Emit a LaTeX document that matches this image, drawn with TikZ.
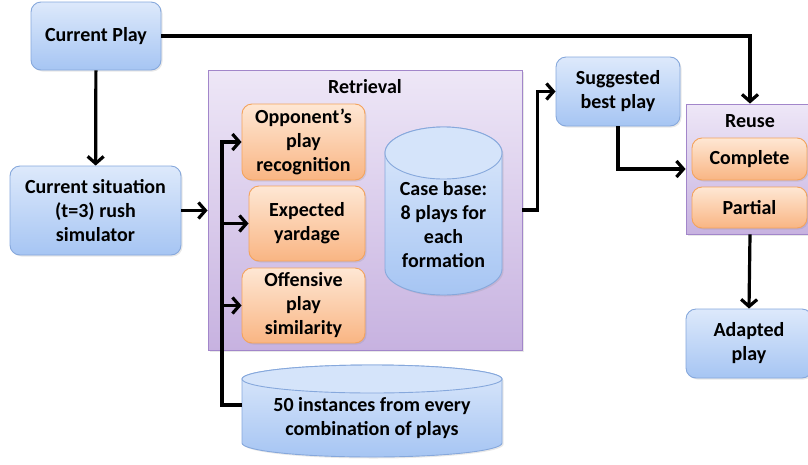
\documentclass[tikz,border=0pt]{standalone}
\usepackage{fontspec}
\setmainfont{Carlito}
\usetikzlibrary{shapes.geometric,arrows.meta,positioning,calc,shadows}

\definecolor{bluetop}{HTML}{DDE9FB}
\definecolor{bluebot}{HTML}{A6C5F3}
\definecolor{blueedge}{HTML}{86A8DC}
\definecolor{orgtop}{HTML}{FEE7D4}
\definecolor{orgbot}{HTML}{F9B583}
\definecolor{orgedge}{HTML}{F4A35C}
\definecolor{purtop}{HTML}{EEE7F7}
\definecolor{purbot}{HTML}{C7B2E0}
\definecolor{puredge}{HTML}{A286CA}

\tikzset{
    txt/.style={font=\fontsize{20}{24}\selectfont\bfseries, align=center, inner sep=0pt},
    softshadow/.style={drop shadow={opacity=0.18, shadow xshift=1.5pt, shadow yshift=-1.5pt}},
    bluebox/.style={txt, draw=blueedge, line width=0.9pt, rounded corners=10pt, top color=bluetop, bottom color=bluebot, softshadow},
    orgbox/.style={txt, draw=orgedge, line width=0.9pt, rounded corners=10pt, top color=orgtop, bottom color=orgbot, softshadow},
    groupbox/.style={draw=puredge, line width=0.9pt, top color=purtop, bottom color=purbot, softshadow},
    drum/.style={draw=blueedge, line width=0.9pt, top color=bluetop, bottom color=bluebot, softshadow},
    lid/.style={draw=blueedge, line width=0.9pt, fill=bluetop!85!bluebot},
    flow/.style={line width=3.2pt, -{Straight Barb[length=7pt,width=16pt]}}
}

\begin{document}
\begin{tikzpicture}[x=1pt, y=-1pt]
    \useasboundingbox (0,0) rectangle (808,464);
    \clip (0,0) rectangle (808,464);

    % Left column
    \node[bluebox, minimum width=130, minimum height=68] (play) at (96,36) {Current Play};
    \node[bluebox, minimum width=171, minimum height=89] (sim) at (95.5,210.5) {Current situation\\(t=3) rush\\simulator};

    % Retrieval group
    \node[groupbox, minimum width=314, minimum height=280] (ret) at (365,210) {};
    \node[txt] (rettitle) at (365,87) {Retrieval};
    \node[orgbox, minimum width=123, minimum height=76] (opp) at (303.5,142) {Opponent's\\play\\recognition};
    \node[orgbox, minimum width=116, minimum height=75] (yard) at (307,223.5) {Expected\\yardage};
    \node[orgbox, minimum width=123, minimum height=75] (off) at (303.5,305.5) {Offensive\\play\\similarity};

    % Case base drum
    \path[drum] (385,153) -- (385,269) arc[start angle=180, end angle=360, x radius=58.5pt, y radius=26pt]
        -- (502,153) arc[start angle=0, end angle=180, x radius=58.5pt, y radius=26pt] -- cycle;
    \draw[lid] (443.5,153) ellipse[x radius=58.5pt, y radius=26pt];
    \node[txt] (cases) at (443.5,225) {Case base:\\8 plays for\\each\\formation};

    % Instance store drum
    \path[drum] (242,379) -- (242,443) arc[start angle=180, end angle=360, x radius=130pt, y radius=14pt]
        -- (502,379) arc[start angle=0, end angle=180, x radius=130pt, y radius=14pt] -- cycle;
    \draw[lid] (372,379) ellipse[x radius=130pt, y radius=14pt];
    \node[txt] (inst) at (372,418) {50 instances from every\\combination of plays};
    \coordinate (instw) at (242,405);

    % Right column
    \node[bluebox, minimum width=124, minimum height=69] (best) at (618,91.5) {Suggested\\best play};
    \node[groupbox, minimum width=128, minimum height=130] (reuse) at (750,169) {};
    \node[txt] (reusetitle) at (750,121) {Reuse};
    \node[orgbox, minimum width=115, minimum height=42] (full) at (749.5,159) {Complete};
    \node[orgbox, minimum width=115, minimum height=41] (part) at (749.5,207.5) {Partial};
    \node[bluebox, minimum width=126, minimum height=69] (adapt) at (749,343.5) {Adapted\\play};

    % Connectors
    \coordinate (bus) at (222,142);
    \draw[flow] (play) -- (sim);
    \draw[flow] (sim) -- (sim -| ret.west);
    \draw[flow] (instw) -| (bus) -- (opp.west);
    \draw[flow] (bus |- yard.west) -- (yard.west);
    \draw[flow] (bus |- off.west) -- (off.west);
    \draw[flow] (ret.east) -- ++(15,0) |- (best.west);
    \draw[flow] (play.east) -| (reuse.north);
    \draw[flow] (best.south) |- (reuse.west);
    \draw[flow] (reuse.south) -- (adapt.north);
\end{tikzpicture}
\end{document}
